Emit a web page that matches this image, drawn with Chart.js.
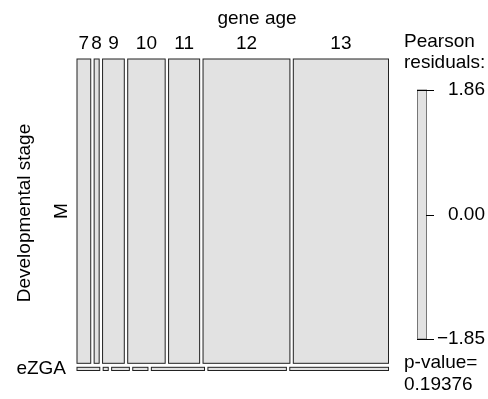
<!DOCTYPE html>
<html>
<head>
<meta charset="utf-8">
<script src="https://cdn.jsdelivr.net/npm/chart.js@4"></script>
<style>
html, body { margin: 0; padding: 0; background: #fff; }
#wrap { width: 488px; height: 399px; }
</style>
</head>
<body>
<div id="wrap"><canvas id="mosaicChart"></canvas></div>
<script>
// mosaic of developmental stage x gene age
const geneAges = ['7', '8', '9', '10', '11', '12', '13'];
const stages = ['M', 'eZGA'];
const countsM = [517, 189, 818, 1410, 1169, 3269, 3582];
const countsEZGA = [9, 2, 7, 6, 21, 31, 39];
const residualTicks = [1.86, 0.00, -1.85];
const pValue = '0.19376';

const FONT = '"Liberation Sans", Arial, Helvetica, sans-serif';
const FILL = '#e2e2e2';

const mosaicPlugin = {
    id: 'mosaic',
    afterDatasetsDraw(chart) {
        const { ctx, chartArea, scales: { x, y } } = chart;
        const rows = [countsM, countsEZGA];
        const rowTotals = rows.map(r => r.reduce((a, b) => a + b, 0));
        const grand = rowTotals.reduce((a, b) => a + b, 0);
        const gapX = 3.4 / chartArea.width;
        const gapY = 4 / chartArea.height;
        const availY = 1 - gapY * (rows.length - 1);

        ctx.save();
        ctx.font = '19px ' + FONT;
        ctx.fillStyle = '#000';
        let yTop = 1;
        rows.forEach((row, r) => {
            const h = rowTotals[r] / grand * availY;
            const availX = 1 - gapX * (row.length - 1);
            const py0 = y.getPixelForValue(yTop);
            const py1 = y.getPixelForValue(yTop - h);
            let xl = 0;
            row.forEach((n, i) => {
                const w = n / rowTotals[r] * availX;
                const px0 = x.getPixelForValue(xl);
                const px1 = x.getPixelForValue(xl + w);
                ctx.fillStyle = FILL;
                ctx.fillRect(px0, py0, px1 - px0, py1 - py0);
                ctx.strokeStyle = '#222';
                ctx.lineWidth = 1;
                ctx.strokeRect(px0, py0, px1 - px0, py1 - py0);
                if (r === 0) {
                    ctx.fillStyle = '#000';
                    ctx.textAlign = 'center';
                    ctx.textBaseline = 'middle';
                    ctx.fillText(geneAges[i], (px0 + px1) / 2, 44);
                }
                xl += w + gapX;
            });
            // row label
            ctx.fillStyle = '#000';
            const cy = (py0 + py1) / 2;
            if (r === 0) {
                ctx.save();
                ctx.translate(62, cy);
                ctx.rotate(-Math.PI / 2);
                ctx.textAlign = 'center';
                ctx.textBaseline = 'middle';
                ctx.fillText(stages[r], 0, 0);
                ctx.restore();
            } else {
                ctx.textAlign = 'right';
                ctx.textBaseline = 'middle';
                ctx.fillText(stages[r], 66, cy);
            }
            yTop -= h + gapY;
        });

        // variable names
        ctx.textAlign = 'center';
        ctx.textBaseline = 'middle';
        ctx.fillText('gene age', 257, 19);
        ctx.save();
        ctx.translate(25, 213);
        ctx.rotate(-Math.PI / 2);
        ctx.fillText('Developmental stage', 0, 0);
        ctx.restore();

        // shading legend
        const lx0 = 417, lx1 = 426, ly0 = 90, ly1 = 339;
        const rMax = residualTicks[0], rMin = residualTicks[residualTicks.length - 1];
        const ly = v => ly1 - (v - rMin) / (rMax - rMin) * (ly1 - ly0);
        ctx.fillStyle = FILL;
        ctx.fillRect(lx0, ly0, lx1 - lx0, ly1 - ly0);
        ctx.strokeStyle = '#777';
        ctx.strokeRect(lx0 + 0.5, ly0, lx1 - lx0, ly1 - ly0);
        ctx.strokeStyle = '#000';
        ctx.fillStyle = '#000';
        ctx.textAlign = 'right';
        residualTicks.forEach((v, k) => {
            const ty = Math.round(ly(v)) + 0.5;
            const edge = k === 0 || k === residualTicks.length - 1;
            ctx.beginPath();
            ctx.moveTo(edge ? lx0 : lx1, ty);
            ctx.lineTo(434, ty);
            ctx.stroke();
            const label = (v < 0 ? '\u2212' : '') + Math.abs(v).toFixed(2);
            ctx.fillText(label, 485, ty - 1);
        });
        ctx.textAlign = 'left';
        ctx.fillText('Pearson', 404, 42);
        ctx.fillText('residuals:', 404, 63);
        ctx.fillText('p-value=', 404, 363);
        ctx.fillText(pValue, 404, 385);
        ctx.restore();
    }
};

new Chart(document.getElementById('mosaicChart').getContext('2d'), {
    type: 'scatter',
    data: { datasets: [] },
    options: {
        responsive: true,
        maintainAspectRatio: false,
        animation: false,
        layout: { padding: { left: 77, right: 99.5, top: 59, bottom: 28.5 } },
        plugins: { legend: { display: false }, tooltip: { enabled: false } },
        scales: {
            x: { type: 'linear', min: 0, max: 1, display: false },
            y: { type: 'linear', min: 0, max: 1, display: false }
        }
    },
    plugins: [mosaicPlugin]
});
</script>
</body>
</html>
